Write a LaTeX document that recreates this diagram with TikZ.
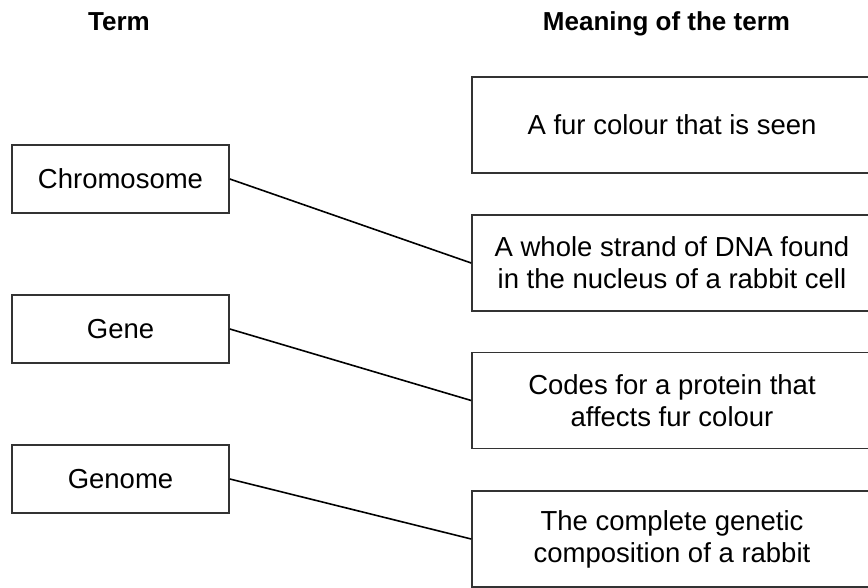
\documentclass[tikz,border=0pt]{standalone}
\usepackage{fontspec}
\setmainfont{Liberation Sans}
\begin{document}
\begin{tikzpicture}[x=1pt,y=-1pt,
  termbox/.style={draw=black!80,line width=1.6pt,minimum width=217pt,minimum height=68pt,inner sep=0pt,
    font=\fontsize{27.5}{32}\selectfont},
  meanbox/.style={draw=black!80,line width=1.6pt,minimum width=400pt,minimum height=96pt,inner sep=0pt,align=center,
    font=\fontsize{27.5}{32}\selectfont},
  head/.style={font=\fontsize{26}{30}\bfseries\selectfont,inner sep=0pt,anchor=base},
  link/.style={line width=1.6pt,black}]
\useasboundingbox (0,0) rectangle (868,588);
\clip (0,0) rectangle (868,588);
\node[head] (h1) at (119,31) {Term};
\node[head] (h2) at (666.5,31) {Meaning of the term};
\node[termbox] (c) at (120.5,179) {Chromosome};
\node[termbox] (g) at (120.5,329) {Gene};
\node[termbox] (gm) at (120.5,479) {Genome};
\node[meanbox] (m1) at (672,125) {A fur colour that is seen};
\node[meanbox] (m2) at (672,263) {A whole strand of DNA found\\in the nucleus of a rabbit cell};
\node[meanbox] (m3) at (672,400.5) {Codes for a protein that\\affects fur colour};
\node[meanbox] (m4) at (672,539) {The complete genetic\\composition of a rabbit};
\draw[link] (c.east) -- (m2.west);
\draw[link] (g.east) -- (m3.west);
\draw[link] (gm.east) -- (m4.west);
\end{tikzpicture}
\end{document}
